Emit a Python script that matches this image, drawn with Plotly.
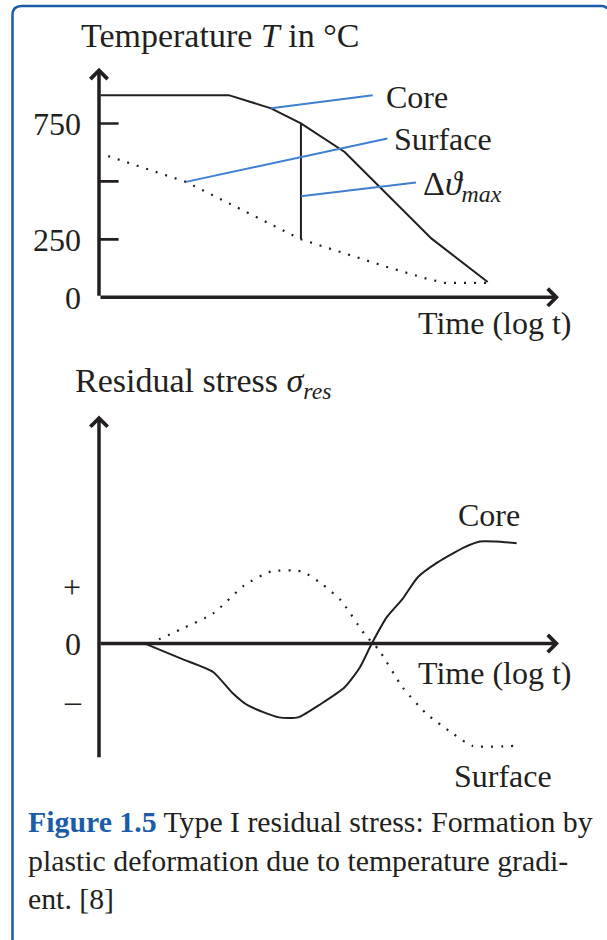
import plotly.graph_objects as go

# Layout is designed on a 607 x 940 grid (paper fractions below come from it);
# the figure itself is drawn FIG_H CSS pixels tall.
W, H = 607, 940
FIG_H = 959

# Temperature history: time on a log scale (arbitrary units), temperature in °C
core_time = [0.03, 2.82, 3.74, 4.39, 5.34, 7.23, 8.45]
core_temp = [872, 872, 815, 750, 627, 253, 66]
surf_time = [0.2, 1.89, 4.39, 6.26, 7.11, 7.52, 8.43]
surf_temp = [609, 498, 250, 131, 81, 62, 62]
temp_tickvals = [0, 250, 500, 750]
temp_ticktext = ["0", "250", "", "750"]

# Moment of the largest core/surface temperature difference
dtheta_time = 4.39
dtheta_core = 750
dtheta_surf = 250

# Residual stress history (sign only: + tension, - compression)
core_s_time = [1.0, 1.80, 2.48, 2.89, 3.24, 3.91, 4.33, 4.83, 5.34, 5.67, 5.93,
               6.26, 6.60, 6.93, 7.36, 7.95, 8.28, 8.62, 9.08]
core_stress = [0.0, -0.27, -0.50, -0.86, -1.09, -1.30, -1.30, -1.06, -0.77, -0.42, 0.0,
               0.47, 0.79, 1.17, 1.43, 1.70, 1.80, 1.80, 1.77]
surf_s_time = [1.1, 1.80, 2.48, 3.15, 3.74, 4.41, 4.83, 5.26, 5.76, 6.09,
               6.60, 7.11, 7.70, 8.11, 9.09]
surf_stress = [0.0, 0.26, 0.53, 1.02, 1.27, 1.27, 1.06, 0.76, 0.18, -0.12,
               -0.77, -1.23, -1.59, -1.80, -1.80]
stress_tickvals = [1, 0, -1]
stress_ticktext = ["+", "0", "\u2013"]

BLACK = "#231f20"
BLUE_LEAD = "#3f7fcf"
BLUE_FRAME = "#1b5ca8"
SERIF = "Liberation Serif"
LABEL_SIZE = 32
DOT = "2px,8px"


def fx(px):
    return px / W


def fy(px):
    return 1 - px / H


# axis placement (design pixels) and data ranges
X_DOM = [fx(99), fx(559)]
X_RANGE = [0, 10]
Y1_DOM = [fy(297), fy(297 - 231.6)]
Y1_RANGE = [0, 1000]
Y2_DOM = [fy(758), fy(415)]
Y2_RANGE = [-2.03, 4.02]


def to_paper(v, dom, rng):
    return dom[0] + (v - rng[0]) / (rng[1] - rng[0]) * (dom[1] - dom[0])


fig = go.Figure()

# --- upper panel: temperature -------------------------------------------
fig.add_trace(go.Scatter(x=core_time, y=core_temp, mode="lines",
                         line=dict(color=BLACK, width=2), xaxis="x", yaxis="y"))
fig.add_trace(go.Scatter(x=surf_time, y=surf_temp, mode="lines",
                         line=dict(color=BLACK, width=2.2, dash=DOT),
                         xaxis="x", yaxis="y"))
fig.add_trace(go.Scatter(x=[dtheta_time, dtheta_time], y=[dtheta_surf, dtheta_core],
                         mode="lines", line=dict(color=BLACK, width=2),
                         xaxis="x", yaxis="y"))
# tick marks crossing the temperature axis
fig.add_trace(go.Scatter(x=[0] * (len(temp_tickvals) - 1), y=temp_tickvals[1:],
                         mode="markers",
                         marker=dict(symbol="line-ew", size=28,
                                     line=dict(color=BLACK, width=2.6)),
                         xaxis="x", yaxis="y"))

# leader lines to the labels
leaders = [
    ((core_time[2], core_temp[2]), (5.95, 872)),
    ((surf_time[1], surf_temp[1]), (6.27, 685)),
    ((dtheta_time, 436), (6.89, 495)),
]
for (x0, y0), (x1, y1) in leaders:
    fig.add_trace(go.Scatter(x=[x0, x1], y=[y0, y1], mode="lines",
                             line=dict(color=BLUE_LEAD, width=2),
                             xaxis="x", yaxis="y"))

# --- lower panel: residual stress ----------------------------------------
fig.add_trace(go.Scatter(x=core_s_time, y=core_stress, mode="lines",
                         line=dict(color=BLACK, width=2, shape="spline", smoothing=0.6),
                         xaxis="x2", yaxis="y2"))
fig.add_trace(go.Scatter(x=surf_s_time, y=surf_stress, mode="lines",
                         line=dict(color=BLACK, width=2.2, dash=DOT,
                                   shape="spline", smoothing=0.6),
                         xaxis="x2", yaxis="y2"))

axis_common = dict(showgrid=False, zeroline=False, showline=False, fixedrange=True)
tick_font = dict(family=SERIF, size=LABEL_SIZE, color=BLACK)

fig.update_layout(
    width=W, height=FIG_H, autosize=False,
    margin=dict(l=0, r=0, t=0, b=0),
    paper_bgcolor="white", plot_bgcolor="rgba(0,0,0,0)",
    showlegend=False,
    xaxis=dict(domain=X_DOM, range=X_RANGE, anchor="y",
               showticklabels=False, **axis_common),
    yaxis=dict(domain=Y1_DOM, range=Y1_RANGE, anchor="x",
               tickvals=temp_tickvals, ticktext=temp_ticktext, ticks="",
               ticklabelstandoff=17, tickfont=tick_font, **axis_common),
    xaxis2=dict(domain=X_DOM, range=X_RANGE, anchor="y2",
                showticklabels=False, **axis_common),
    yaxis2=dict(domain=Y2_DOM, range=Y2_RANGE, anchor="x2",
                tickvals=stress_tickvals, ticktext=stress_ticktext, ticks="",
                ticklabelstandoff=17, tickfont=tick_font, **axis_common),
)

annotations = []


def axis_arrow(xref, yref, x0, y0, x1, y1):
    annotations.append(dict(
        x=x1, y=y1, ax=x0, ay=y0, xref=xref, yref=yref, axref=xref, ayref=yref,
        text="", showarrow=True, arrowhead=4, arrowsize=0.95, arrowwidth=3.5,
        arrowcolor=BLACK, standoff=0, startstandoff=0))


axis_arrow("x", "y", 0, 0, 10, 0)
axis_arrow("x", "y", 0, 0, 0, 990)
axis_arrow("x2", "y2", 0, 0, 10, 0)
axis_arrow("x2", "y2", 0, Y2_RANGE[0], 0, Y2_RANGE[1])


def label(text, x, y, size=LABEL_SIZE, color=BLACK):
    annotations.append(dict(
        text=text, x=x, y=y, xref="paper", yref="paper", xanchor="left", yanchor="middle",
        showarrow=False, font=dict(family=SERIF, size=size, color=color)))


def panel_label(text, t, v, ydom, yrng, size=LABEL_SIZE):
    # place a label at panel coordinates; works also outside the axis ranges
    label(text, to_paper(t, X_DOM, X_RANGE), to_paper(v, ydom, yrng), size=size)


panel_label("Temperature <i>T</i> in °C", -0.43, 1131, Y1_DOM, Y1_RANGE, size=34)
panel_label("Core", 6.19, 864, Y1_DOM, Y1_RANGE)
panel_label("Surface", 6.38, 684, Y1_DOM, Y1_RANGE)
panel_label("Δ<i>ϑ</i><sub><i>max</i></sub>", 7.01, 479, Y1_DOM, Y1_RANGE, size=34)
panel_label("Time (log t)", 6.90, -112, Y1_DOM, Y1_RANGE)

panel_label("Residual stress <i>σ</i><sub><i>res</i></sub>", -0.56, 4.59, Y2_DOM, Y2_RANGE, size=34)
panel_label("Core", 7.75, 2.26, Y2_DOM, Y2_RANGE)
panel_label("Time (log t)", 6.90, -0.51, Y2_DOM, Y2_RANGE)
panel_label("Surface", 7.67, -2.33, Y2_DOM, Y2_RANGE)

# caption
caption_lines = [
    f"<b><span style='color:{BLUE_FRAME}'>Figure 1.5</span></b> Type I residual stress: Formation by",
    "plastic deformation due to temperature gradi-",
    "ent. [8]",
]
for i, line in enumerate(caption_lines):
    label(line, fx(26), fy(821 + 38.5 * i), size=29.8)

fig.update_layout(annotations=annotations)

# rounded frame; its right and bottom edges run just past the page edge,
# so only the left side, the top and the starting corners are drawn
r = 9
x0, y0 = 12.5, 6
path = (f"M {fx(x0)},{fy(H)} L {fx(x0)},{fy(y0 + r)} "
        f"Q {fx(x0)},{fy(y0)} {fx(x0 + r)},{fy(y0)} "
        f"L {fx(W - 5)},{fy(y0)} Q {fx(W - 1.5)},{fy(y0)} {fx(W)},{fy(y0 + 2.5)}")
fig.add_shape(type="path", path=path, xref="paper", yref="paper",
              line=dict(color=BLUE_FRAME, width=2.5), fillcolor="rgba(0,0,0,0)")

fig.write_html("out.html", config={"displayModeBar": False, "staticPlot": True})
